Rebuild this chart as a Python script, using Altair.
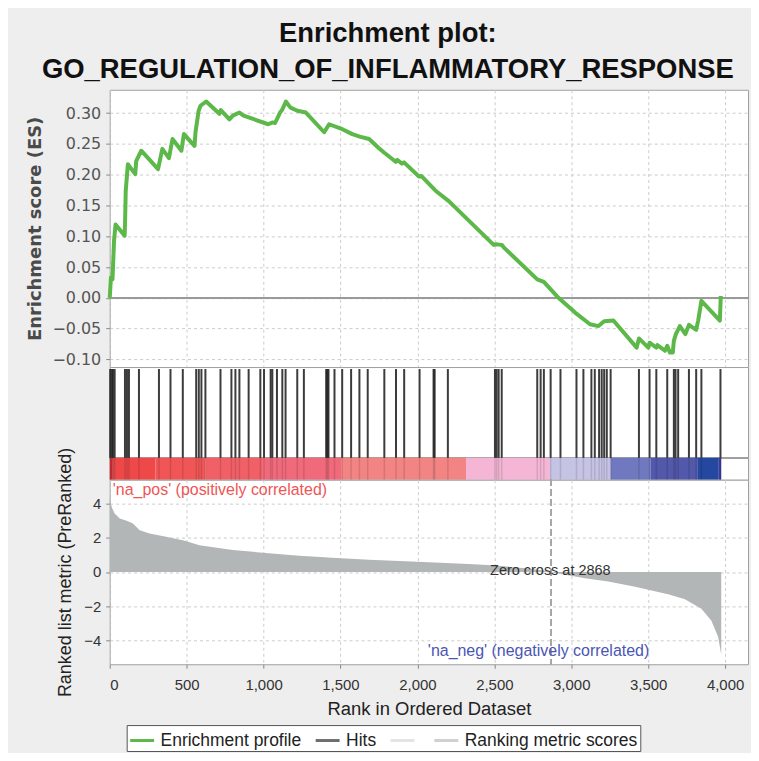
import altair as alt
import pandas as pd

# ---------------- data ----------------
es_rank = [0, 8, 18, 28, 38, 97, 100, 104, 118, 166, 172, 205, 314, 342, 385, 408,
           466, 482, 551, 558, 578, 590, 627, 713, 722, 778, 800, 843, 870, 1030,
           1060, 1075, 1107, 1120, 1145, 1175, 1220, 1275, 1394, 1426, 1512, 1577,
           1625, 1686, 1750, 1783, 1859, 1870, 1900, 1913, 2010, 2025, 2118, 2204,
           2496, 2510, 2548, 2561, 2779, 2822, 2917, 3025, 3122, 3177, 3214, 3274,
           3425, 3440, 3501, 3509, 3553, 3560, 3609, 3624, 3641, 3660, 3667, 3680,
           3706, 3742, 3765, 3812, 3825, 3846, 3966, 3972]
es_value = [0.000, 0.033, 0.030, 0.093, 0.119, 0.101, 0.126, 0.174, 0.217, 0.201,
            0.222, 0.239, 0.209, 0.242, 0.227, 0.258, 0.239, 0.266, 0.247, 0.270,
            0.304, 0.312, 0.319, 0.299, 0.305, 0.290, 0.296, 0.301, 0.296, 0.282,
            0.285, 0.284, 0.301, 0.305, 0.319, 0.309, 0.304, 0.301, 0.269, 0.282,
            0.274, 0.266, 0.262, 0.258, 0.243, 0.236, 0.221, 0.224, 0.218, 0.220,
            0.197, 0.198, 0.174, 0.157, 0.086, 0.087, 0.086, 0.082, 0.030, 0.026,
            0.000, -0.024, -0.043, -0.046, -0.038, -0.037, -0.081, -0.066, -0.081,
            -0.073, -0.081, -0.077, -0.086, -0.078, -0.089, -0.089, -0.070, -0.059,
            -0.046, -0.059, -0.044, -0.052, -0.037, -0.005, -0.037, 0.003]

hit_rank = [3, 13, 21, 32, 99, 112, 125, 190, 320, 395, 475, 562, 579, 596, 622,
            720, 791, 817, 843, 903, 979, 1003, 1046, 1057, 1087, 1122, 1143, 1219,
            1262, 1407, 1415, 1422, 1461, 1511, 1569, 1623, 1677, 1785, 1861, 1914,
            2014, 2105, 2112, 2198, 2504, 2515, 2528, 2548, 2779, 2801, 2822, 2866,
            2930, 3034, 3079, 3131, 3153, 3181, 3198, 3214, 3231, 3256, 3440, 3509,
            3553, 3624, 3667, 3678, 3695, 3765, 3812, 3846, 3970]

metric_rank = [0, 5, 15, 32, 65, 110, 151, 195, 259, 367, 488, 583, 800, 994, 1232,
               1447, 1686, 1999, 2334, 2485, 2700, 2860, 2868, 2950, 3100, 3241,
               3415, 3630, 3739, 3846, 3911, 3955, 3975]
metric_value = [4.45, 4.1, 3.75, 3.42, 3.13, 3.0, 2.84, 2.45, 2.25, 2.06, 1.83, 1.57,
                1.28, 1.13, 0.95, 0.84, 0.72, 0.60, 0.47, 0.40, 0.22, 0.05, 0.0,
                -0.15, -0.38, -0.56, -0.86, -1.30, -1.60, -2.15, -2.85, -3.80, -4.85]

bar_start = [0, 20, 298, 622, 990, 1504, 2316, 2861, 3256, 3516, 3819, 3959]
bar_end = [20, 298, 622, 990, 1504, 2316, 2861, 3256, 3516, 3819, 3959, 3975]
bar_color = ["#d8303a", "#ee4848", "#f05656", "#f06066", "#f06a7c", "#f28484",
             "#f4b6d4", "#c6c4e4", "#7078c0", "#5258aa", "#2448a0", "#3c3c9c"]

x_ticks = [0, 500, 1000, 1500, 2000, 2500, 3000, 3500, 4000]
es_ticks = [-0.10, -0.05, 0.00, 0.05, 0.10, 0.15, 0.20, 0.25, 0.30]
metric_ticks = [-4, -2, 0, 2, 4]

label_text = ["'na_pos' (positively correlated)", "Zero cross at 2868",
              "'na_neg' (negatively correlated)"]
label_rank = [20, 2864, 3507]
label_metric = [4.79, 0.03, -4.61]

legend_labels = ["Enrichment profile", "Hits", " ", "Ranking metric scores"]
legend_colors = ["#5cb848", "#6e6e6e", "#e4e4e4", "#d0d0d0"]

# ---------------- chart ----------------
X_MAX = 4149
W = 640
xs = alt.Scale(domain=[0, X_MAX], nice=False, zero=False)
GRID = "#cccccc"

es_df = pd.DataFrame({"rank": es_rank, "es": es_value})
es_df["series"] = "Enrichment profile"

top_x_axis = alt.Axis(values=x_ticks, labels=False, ticks=False, domain=False,
                      title=None, grid=True, gridDash=[3, 3], gridColor=GRID)
top_y_axis = alt.Axis(values=es_ticks, format=".2f", title="Enrichment score (ES)",
                      grid=True, gridDash=[3, 3], gridColor=GRID, domain=False,
                      labelOverlap=False, tickCount=9,
                      tickSize=4, tickColor="#888", labelPadding=5,
                      labelFont="DejaVu Sans", labelFontSize=16, labelColor="#555",
                      titleFont="DejaVu Sans", titleFontSize=18, titleFontWeight="bold",
                      titleColor="#4a4a4a", titlePadding=7)
es_y_scale = alt.Scale(domain=[-0.1125, 0.338], nice=False, zero=False)

es_line = alt.Chart(es_df).mark_line(strokeWidth=4, strokeJoin="round").encode(
    x=alt.X("rank:Q", scale=xs, axis=top_x_axis),
    y=alt.Y("es:Q", scale=es_y_scale, axis=top_y_axis),
    color=alt.Color("series:N",
                    scale=alt.Scale(domain=legend_labels, range=legend_colors),
                    legend=alt.Legend(orient="none", legendX=17, legendY=637,
                                      direction="horizontal", title=None,
                                      symbolType="stroke", symbolStrokeWidth=3,
                                      symbolSize=576, labelFontSize=17.5,
                                      labelFont="Liberation Sans", labelColor="#222",
                                      labelLimit=400,
                                      strokeColor="#555", fillColor="white",
                                      padding=2, columnPadding=7, labelOffset=5)),
)
zero_rule = alt.Chart(es_df).mark_rule(color="#999999", strokeWidth=1.5).encode(
    x=alt.XDatum(0, scale=xs, axis=top_x_axis), x2=alt.X2Datum(X_MAX),
    y=alt.YDatum(0, scale=es_y_scale, axis=top_y_axis))
top = alt.layer(zero_rule, es_line).properties(width=W, height=278)

# hits + colour bar panel
hy = alt.Scale(domain=[0, 113], nice=False, zero=False)
bar_df = pd.DataFrame({"start": bar_start, "end": bar_end, "color": bar_color})
hit_df = pd.DataFrame({"rank": hit_rank})

bar_border = alt.Chart(bar_df).mark_rule(color="#a0a0a0").encode(
    x=alt.XDatum(0, scale=xs, axis=None), x2=alt.X2Datum(X_MAX),
    y=alt.YDatum(22, scale=hy, axis=None))
bars = alt.Chart(bar_df).mark_rect().encode(
    x=alt.X("start:Q", scale=xs, axis=None), x2="end:Q",
    y=alt.YDatum(0, scale=hy, axis=None), y2=alt.Y2Datum(22),
    color=alt.Color("color:N", scale=None))
hits_faint = alt.Chart(hit_df).mark_rule(color="#000", strokeWidth=1.5, opacity=0.12).encode(
    x=alt.X("rank:Q", scale=xs, axis=None),
    y=alt.YDatum(0, scale=hy, axis=None), y2=alt.Y2Datum(22))
hits = alt.Chart(hit_df).mark_rule(color="#1a1a1a", strokeWidth=2, opacity=0.85).encode(
    x=alt.X("rank:Q", scale=xs, axis=None),
    y=alt.YDatum(22, scale=hy, axis=None), y2=alt.Y2Datum(111))
mid = alt.layer(bar_border, bars, hits_faint, hits).properties(width=W, height=113)

# ranked list metric panel
met_df = pd.DataFrame({"rank": metric_rank, "metric": metric_value})
lab_df = pd.DataFrame({"text": label_text, "rank": label_rank, "metric": label_metric})
my = alt.Scale(domain=[-5.4, 5.4], nice=False, zero=False)

bot_x_axis = alt.Axis(values=x_ticks, format=",d", title="Rank in Ordered Dataset",
                      grid=True, gridDash=[3, 3], gridColor=GRID, domain=False,
                      tickSize=4, tickColor="#888", labelPadding=9,
                      labelFont="Liberation Sans", labelFontSize=15, labelColor="#333",
                      titleFont="Liberation Sans", titleFontSize=18.5,
                      titleFontWeight="normal", titleColor="#222", titlePadding=7)
bot_y_axis = alt.Axis(values=metric_ticks, title="Ranked list metric (PreRanked)",
                      grid=True, gridDash=[3, 3], gridColor=GRID, domain=False,
                      labelOverlap=False,
                      tickSize=4, tickColor="#888", labelPadding=5,
                      labelFont="Liberation Sans", labelFontSize=15, labelColor="#333",
                      titleFont="Liberation Sans", titleFontSize=18,
                      titleFontWeight="normal", titleColor="#222", titlePadding=9)

area = alt.Chart(met_df).mark_area(color="#b3b6b6", interpolate="linear").encode(
    x=alt.X("rank:Q", scale=xs, axis=bot_x_axis),
    y=alt.Y("metric:Q", scale=my, axis=bot_y_axis),
    y2=alt.Y2Datum(0))
zc_rule = alt.Chart(met_df).mark_rule(color="#a8a8a8", strokeDash=[6, 4]).encode(
    x=alt.XDatum(2868, scale=xs, axis=bot_x_axis))
lab_base = alt.Chart(lab_df).encode(
    x=alt.X("rank:Q", scale=xs, axis=bot_x_axis),
    y=alt.Y("metric:Q", scale=my, axis=bot_y_axis), text="text:N")
lab_pos = lab_base.transform_filter(alt.datum.rank < 100).mark_text(
    align="left", baseline="middle", font="Liberation Sans", fontSize=16, color="#ee5555")
lab_zero = lab_base.transform_filter((alt.datum.rank > 100) & (alt.datum.rank < 3000)).mark_text(
    align="center", baseline="middle", font="Liberation Sans", fontSize=14.5, color="#333")
lab_neg = lab_base.transform_filter(alt.datum.rank > 3000).mark_text(
    align="right", baseline="middle", font="Liberation Sans", fontSize=16, color="#4a55b4")
bottom = alt.layer(area, zc_rule, lab_pos, lab_zero, lab_neg).properties(width=W, height=185)

chart = alt.vconcat(
    top, mid, bottom, spacing=0, bounds="flush",
    title=alt.TitleParams(["Enrichment plot:", "GO_REGULATION_OF_INFLAMMATORY_RESPONSE"],
                          font="Liberation Sans", fontSize=27.5, fontWeight="bold",
                          color="#111", lineHeight=36, anchor="middle", frame="bounds",
                          offset=6),
).properties(
    background="#eeeeee",
    padding={"left": 18, "top": 11, "right": 1, "bottom": 0},
).configure_view(stroke="#a0a0a0", fill="white", strokeWidth=1)

chart.save("out.html", embed_options={"renderer": "svg", "actions": False})
